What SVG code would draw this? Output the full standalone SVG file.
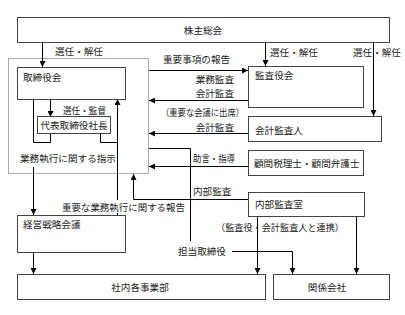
<svg xmlns="http://www.w3.org/2000/svg" width="405" height="315" viewBox="0 0 405 315">
<defs>
<marker id="ah" viewBox="0 0 6 6" refX="6" refY="3" markerWidth="6" markerHeight="6" markerUnits="userSpaceOnUse" orient="auto">
<path d="M0,0 L6,3 L0,6 Z" fill="#000"/>
</marker>
</defs>
<style>
.box{fill:#fff;stroke:#444;stroke-width:1}
.dash{fill:none;stroke:#555;stroke-width:1;stroke-dasharray:1,1}
.ln{fill:none;stroke:#000;stroke-width:1}
.ar{fill:none;stroke:#000;stroke-width:1;marker-end:url(#ah)}
text{font-family:"Noto Sans CJK JP","Liberation Sans",sans-serif;font-size:9.6px;fill:#222;dominant-baseline:central}
.mid{text-anchor:middle}
.end{text-anchor:end}
</style>
<rect width="405" height="315" fill="#fff"/>
<rect class="dash" x="8.5" y="58.5" width="140" height="115"/>
<g id="connectors">
<path class="ar" d="M42.5,42 V67"/>
<path class="ar" d="M265.5,42 V66"/>
<path class="ar" d="M373.5,42 V116"/>
<path class="ar" d="M149,70.5 H248"/>
<path class="ar" d="M248,100.5 H149"/>
<path class="ar" d="M248,133.5 H149"/>
<path class="ar" d="M248,166.5 H149"/>
<path class="ar" d="M50.5,99 V117"/>
<path class="ln" d="M33.5,99 V142.5 H50.5 V133"/>
<path class="ar" d="M33.5,167 V215"/>
<path class="ln" d="M100.5,133 V142.5 H117.5"/>
<path class="ln" d="M117.5,215 V213"/>
<path class="ar" d="M117.5,200 V99"/>
<path class="ar" d="M248,199.5 H133.5 V174"/>
<path class="ln" d="M149,148.5 H190.5 V241"/>
<path class="ar" d="M232,251.5 H292.5 V274"/>
<path class="ar" d="M257.5,216 V274"/>
<path class="ar" d="M356.5,216 V274"/>
<path class="ar" d="M33.5,252 V274"/>
</g>
<g id="kabunushi"><rect class="box" x="17.5" y="17.5" width="372" height="25"/><text class="mid" x="203" y="30">株主総会</text></g>
<g id="torishimariyakukai"><rect class="box" x="17.5" y="67.5" width="108" height="32"/><text x="23" y="77">取締役会</text></g>
<g id="shacho"><rect class="box" x="37.5" y="116.5" width="73" height="17"/><text class="mid" x="74" y="125">代表取締役社長</text></g>
<g id="kansayakukai"><rect class="box" x="248.5" y="66.5" width="115" height="41"/><text x="255" y="75">監査役会</text></g>
<g id="kaikeikansanin"><rect class="box" x="248.5" y="116.5" width="133" height="25"/><text x="255" y="130">会計監査人</text></g>
<g id="komon"><rect class="box" x="248.5" y="150.5" width="115" height="25"/><text x="254" y="163">顧問税理士・顧問弁護士</text></g>
<g id="naibukansashitsu"><rect class="box" x="248.5" y="192.5" width="116" height="24"/><text x="255" y="204">内部監査室</text></g>
<g id="keiei"><rect class="box" x="17.5" y="215.5" width="108" height="37"/><text x="23" y="224">経営戦略会議</text></g>
<g id="shanai"><rect class="box" x="17.5" y="274.5" width="248" height="25"/><text class="mid" x="140" y="287">社内各事業部</text></g>
<g id="kankei"><rect class="box" x="273.5" y="274.5" width="116" height="25"/><text class="mid" x="327" y="287">関係会社</text></g>
<g id="labels">
<text x="55" y="51">選任・解任</text>
<text x="270" y="52">選任・解任</text>
<text x="353" y="52">選任・解任</text>
<text x="163" y="59">重要事項の報告</text>
<text class="end" x="234" y="79">業務監査</text>
<text class="end" x="234" y="92.5">会計監査</text>
<text x="161" y="112" textLength="83" lengthAdjust="spacingAndGlyphs">（重要な会議に出席）</text>
<text class="end" x="234" y="127">会計監査</text>
<text x="63" y="110" textLength="43" lengthAdjust="spacingAndGlyphs">選任・監督</text>
<text x="20" y="158">業務執行に関する指示</text>
<text class="end" x="235" y="158" textLength="42" lengthAdjust="spacingAndGlyphs">助言・指導</text>
<text x="193" y="191">内部監査</text>
<text x="62" y="207" textLength="123" lengthAdjust="spacingAndGlyphs">重要な業務執行に関する報告</text>
<text x="216" y="227" textLength="128" lengthAdjust="spacingAndGlyphs">（監査役・会計監査人と連携）</text>
<text x="178" y="251">担当取締役</text>
</g>
</svg>
